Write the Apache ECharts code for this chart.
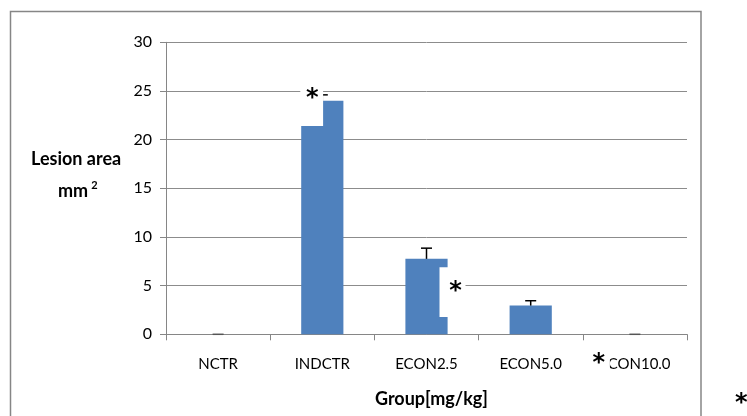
<!DOCTYPE html>
<html>
<head>
<meta charset="utf-8">
<script src="https://cdn.jsdelivr.net/npm/echarts@6/dist/echarts.min.js"></script>
<style>
  html, body { margin: 0; padding: 0; background: #fff; }
  #chart { width: 747px; height: 416px; }
</style>
</head>
<body>
<div id="chart"></div>
<script>
// ---- data ----
const categories = ['NCTR', 'INDCTR', 'ECON2.5', 'ECON5.0', 'ECON10.0'];
const meanValues = [0, 24.0, 7.75, 2.95, 0];
const errorTop = [0, 24.6, 8.85, 3.45, 0];
const yAxisMin = 0;
const yAxisMax = 30;
const yAxisInterval = 5;
const yAxisTitle = 'Lesion area';
const yAxisUnit = 'mm';
const xAxisTitle = 'Group[mg/kg]';
const significanceMark = '*';
// asterisk annotations: category, value at which the star sits
const annotationCategory = ['INDCTR', 'ECON2.5', 'ECON10.0'];
const annotationValue = [24.9, 5.1, -2.3];

// ---- layout of annotation boxes (pixel offsets from category centre, value bounds) ----
const annotationBoxes = [
  { dx0: -22, dx1: 0.8, v0: 26.2, v1: 21.4, sdx: -10 },
  { dx0: 13, dx1: 39, v0: 6.9, v1: 1.78, sdx: 29 },
  { dx0: -48, dx1: -25, v0: -0.8, v1: -4.4, sdx: -36 }
];

const FONT = 'Lato, "Open Sans", sans-serif';
const STAR_FONT = 'bold 24px "DejaVu Sans", sans-serif';
const STAR_SHIFT = 7;
const chart = echarts.init(document.getElementById('chart'), null, { renderer: 'canvas' });

const option = {
  animation: false,
  backgroundColor: '#ffffff',
  grid: { left: 166, right: 60, top: 42.3, bottom: 81.7, containLabel: false },
  xAxis: {
    type: 'category',
    data: categories,
    axisLine: { show: true, lineStyle: { color: '#868686', width: 1 } },
    axisTick: { show: true, alignWithLabel: false, length: 6, lineStyle: { color: '#868686' } },
    axisLabel: { color: '#000', fontFamily: FONT, fontSize: 15, margin: 22 },
    name: xAxisTitle,
    nameLocation: 'middle',
    nameGap: 56,
    nameTextStyle: { color: '#000', fontFamily: FONT, fontSize: 18, fontWeight: 'bold', padding: [0, 0, 0, 10] }
  },
  yAxis: {
    type: 'value',
    min: yAxisMin,
    max: yAxisMax,
    interval: yAxisInterval,
    axisLine: { show: true, lineStyle: { color: '#868686', width: 1 } },
    axisTick: { show: true, length: 6, lineStyle: { color: '#868686' } },
    axisLabel: { color: '#000', fontFamily: FONT, fontSize: 16, margin: 14 },
    splitLine: { show: true, lineStyle: { color: '#8c8c8c', width: 1 } }
  },
  graphic: [
    {
      type: 'rect', z: -10, silent: true,
      shape: { x: 10.5, y: 11.5, width: 690.5, height: 430 },
      style: { fill: 'none', stroke: '#868686', lineWidth: 1.5 }
    },
    {
      type: 'text', left: 31, top: 150, z: 5,
      style: { text: yAxisTitle, fill: '#000', font: 'bold 18px ' + FONT }
    },
    {
      type: 'text', left: 58, top: 180, z: 5,
      style: {
        text: '{m|' + yAxisUnit + '}{s|2}',
        rich: {
          m: { fill: '#000', font: 'bold 18px ' + FONT },
          s: { fill: '#000', font: 'bold 11px ' + FONT, padding: [0, 0, 12, 3] }
        }
      }
    },
    {
      type: 'text', left: 735, top: 392, z: 5,
      style: { text: significanceMark, fill: '#000', font: STAR_FONT }
    }
  ],
  series: [
    {
      type: 'bar',
      data: meanValues,
      barWidth: '40.5%',
      itemStyle: { color: '#4f81bd' },
      z: 2
    },
    {
      type: 'custom',
      z: 3,
      clip: false,
      data: categories.map((c, i) => [i, meanValues[i], errorTop[i]]),
      renderItem: function (params, api) {
        const p0 = api.coord([api.value(0), api.value(1)]);
        const p1 = api.coord([api.value(0), api.value(2)]);
        const hw = 5.5;
        return {
          type: 'group',
          children: [
            { type: 'line', shape: { x1: p0[0], y1: p0[1], x2: p1[0], y2: p1[1] }, style: { stroke: '#000', lineWidth: 1.5 } },
            { type: 'line', shape: { x1: p1[0] - hw, y1: p1[1], x2: p1[0] + hw, y2: p1[1] }, style: { stroke: api.value(2) === 0 ? '#555' : '#000', lineWidth: 1.5 } }
          ]
        };
      }
    },
    {
      type: 'custom',
      z: 10,
      clip: false,
      data: annotationCategory.map((c, i) => [categories.indexOf(c), annotationValue[i], i]),
      renderItem: function (params, api) {
        const cat = api.value(0);
        const box = annotationBoxes[api.value(2)];
        const c = api.coord([cat, 0])[0];
        const yTop = api.coord([cat, box.v0])[1];
        const yBot = api.coord([cat, box.v1])[1];
        const star = api.coord([cat, api.value(1)]);
        return {
          type: 'group',
          children: [
            { type: 'rect', shape: { x: c + box.dx0, y: yTop, width: box.dx1 - box.dx0, height: yBot - yTop }, style: { fill: '#fff' } },
            { type: 'text', x: c + box.sdx, y: star[1] + STAR_SHIFT, style: { text: significanceMark, fill: '#000', font: STAR_FONT, align: 'center', verticalAlign: 'middle' } }
          ]
        };
      }
    }
  ]
};
chart.setOption(option);
</script>
</body>
</html>
